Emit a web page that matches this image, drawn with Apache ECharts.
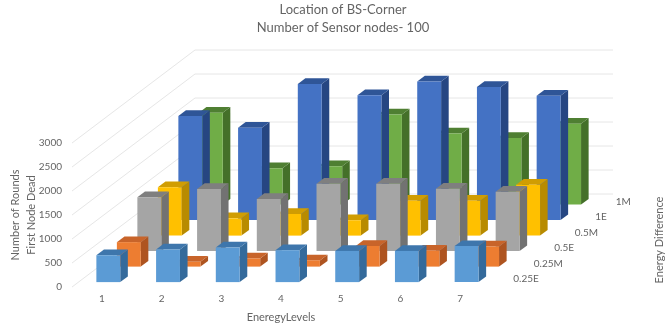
<!DOCTYPE html>
<html>
<head>
<meta charset="utf-8">
<style>
  html, body { margin: 0; padding: 0; background: #ffffff; }
  #chart { width: 667px; height: 326px; }
</style>
<script src="https://cdn.jsdelivr.net/npm/echarts@6/dist/echarts.min.js"></script>
</head>
<body>
<div id="chart"></div>
<script>
// Rounds until the first node dies, per energy level and energy difference
const energyLevels = ['1', '2', '3', '4', '5', '6', '7'];
const rows = ['0.25E', '0.25M', '0.5E', '0.5M', '1E', '1M'];
const yTicks = [0, 500, 1000, 1500, 2000, 2500, 3000];

const rounds025E = [560, 680, 720, 665, 650, 650, 750];
const rounds025M = [510, 100, 170, 130, 430, 330, 420];
const rounds05E = [1120, 1295, 1085, 1405, 1405, 1300, 1235];
const rounds05M = [1010, 360, 450, 320, 725, 725, 1060];
const rounds1E = [2170, 1925, 2835, 2600, 2890, 2775, 2590];
const rounds1M = [1915, 760, 800, 1880, 1480, 1390, 1685];

const rowValues = [rounds025E, rounds025M, rounds05E, rounds05M, rounds1E, rounds1M];
const faceColors = [
  { front: '#5B9BD5', top: '#3E76AC', side: '#346A9B' },
  { front: '#ED7D31', top: '#C8642A', side: '#AE5420' },
  { front: '#A5A5A5', top: '#7F7F7F', side: '#727272' },
  { front: '#FFC000', top: '#D09D02', side: '#B88B00' },
  { front: '#4472C4', top: '#2F5597', side: '#264682' },
  { front: '#70AD47', top: '#4F7F32', side: '#447029' }
];

// Oblique projection: one step back along the depth axis moves up and to the right
const depthDx = 20.5;
const depthDy = -15.5;
const barWidthShare = 0.4;
const barDepthShare = 0.37;

const textColor = '#646464';
const fontFamily = 'Lato, "Open Sans", sans-serif';

function wallSeries() {
  return {
    type: 'custom',
    silent: true,
    clip: false,
    data: yTicks.map(v => [0, v]),
    renderItem(params, api) {
      const v = api.value(1);
      const band = api.size([1, 0])[0];
      const front = api.coord([0, v]);
      const end = api.coord([energyLevels.length - 1, v]);
      const lx = front[0] - band / 2;
      const backDx = depthDx * rows.length;
      const backDy = depthDy * rows.length;
      return {
        type: 'polyline',
        shape: {
          points: [
            [lx, front[1]],
            [lx + backDx, front[1] + backDy],
            [end[0] + band / 2 + backDx, front[1] + backDy]
          ]
        },
        style: { fill: null, stroke: '#E6E6E6', lineWidth: 1 }
      };
    }
  };
}

function rowSeries(depth) {
  const colors = faceColors[depth];
  return {
    type: 'custom',
    name: rows[depth],
    clip: false,
    data: rowValues[depth].map((v, i) => [i, v]),
    encode: { x: 0, y: 1 },
    renderItem(params, api) {
      const base = api.coord([api.value(0), 0]);
      const top = api.coord([api.value(0), api.value(1)]);
      const band = api.size([1, 0])[0];
      const w = band * barWidthShare;
      const start = depth + (1 - barDepthShare) / 2;
      const xl = base[0] - w / 2 + start * depthDx;
      const xr = xl + w;
      const yb = base[1] + start * depthDy;
      const yt = top[1] + start * depthDy;
      const ox = barDepthShare * depthDx;
      const oy = barDepthShare * depthDy;
      return {
        type: 'group',
        children: [
          {
            type: 'polygon',
            shape: { points: [[xr, yb], [xr + ox, yb + oy], [xr + ox, yt + oy], [xr, yt]] },
            style: { fill: colors.side }
          },
          {
            type: 'polygon',
            shape: { points: [[xl, yt], [xr, yt], [xr + ox, yt + oy], [xl + ox, yt + oy]] },
            style: { fill: colors.top }
          },
          {
            type: 'rect',
            shape: { x: xl, y: yt, width: w, height: yb - yt },
            style: { fill: colors.front }
          }
        ]
      };
    }
  };
}

function depthLabelSeries() {
  return {
    type: 'custom',
    silent: true,
    clip: false,
    data: rows.map((r, i) => [i, 0]),
    renderItem(params, api) {
      const i = api.value(0);
      const band = api.size([1, 0])[0];
      const corner = api.coord([energyLevels.length - 1, 0]);
      return {
        type: 'text',
        x: corner[0] + band / 2 + (i + 0.5) * depthDx + 13,
        y: corner[1] + (i + 0.5) * depthDy,
        style: {
          text: rows[i],
          fill: textColor,
          font: '10px ' + fontFamily,
          textAlign: 'left',
          textVerticalAlign: 'middle'
        }
      };
    }
  };
}

const chart = echarts.init(document.getElementById('chart'), null, { renderer: 'canvas' });
chart.setOption({
  animation: false,
  backgroundColor: '#ffffff',
  title: {
    text: 'Location of BS-Corner\nNumber of Sensor nodes- 100',
    left: 338,
    top: -4,
    textAlign: 'center',
    textStyle: { color: textColor, fontFamily, fontSize: 13, fontWeight: 'normal', lineHeight: 18 }
  },
  grid: { left: 72, top: 143, width: 418, height: 144, containLabel: false, outerBoundsMode: 'none' },
  xAxis: {
    type: 'category',
    data: energyLevels,
    name: 'EneregyLevels',
    nameLocation: 'middle',
    nameGap: 25,
    nameTextStyle: { color: textColor, fontFamily, fontSize: 11 },
    axisLine: { show: false },
    axisTick: { show: false },
    axisLabel: { color: textColor, fontFamily, fontSize: 10, margin: 7 }
  },
  yAxis: {
    type: 'value',
    min: 0,
    max: 3000,
    interval: 500,
    name: 'Number of Rounds\nFirst Node Dead',
    nameLocation: 'middle',
    nameRotate: 90,
    nameGap: 33,
    nameMoveOverlap: false,
    nameTextStyle: { color: textColor, fontFamily, fontSize: 11, lineHeight: 16 },
    axisLine: { show: false },
    axisTick: { show: false },
    splitLine: { show: false },
    axisLabel: { color: textColor, fontFamily, fontSize: 10, margin: 10, formatter: v => String(v) }
  },
  graphic: [{
    type: 'text',
    x: 659,
    y: 240,
    rotation: Math.PI / 2,
    style: {
      text: 'Energy Difference',
      fill: textColor,
      font: '11px ' + fontFamily,
      textAlign: 'center',
      textVerticalAlign: 'middle'
    }
  }],
  series: [
    wallSeries(),
    ...[5, 4, 3, 2, 1, 0].map(rowSeries),
    depthLabelSeries()
  ]
});
</script>
</body>
</html>
